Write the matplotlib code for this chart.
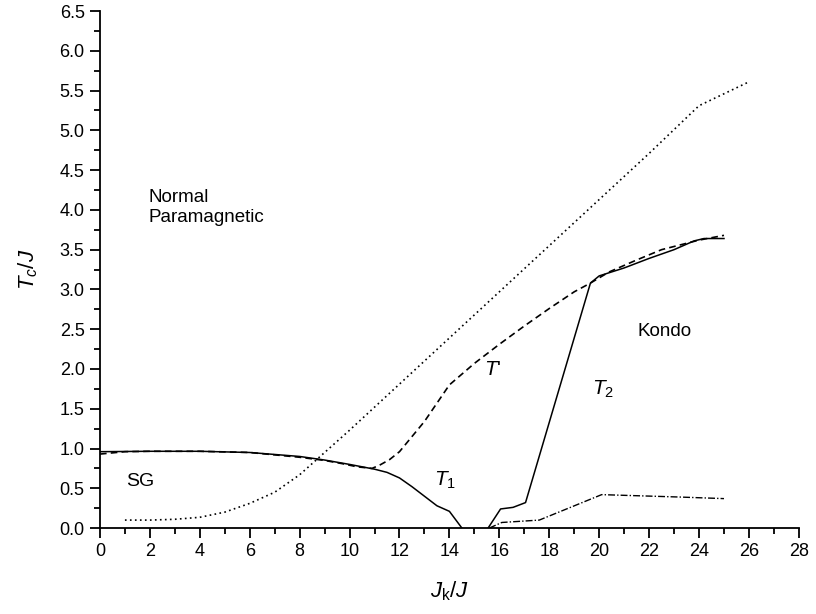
import matplotlib.pyplot as plt
from matplotlib.ticker import MultipleLocator

plt.rcParams['font.family'] = ['Liberation Sans', 'DejaVu Sans']
plt.rcParams['mathtext.fontset'] = 'custom'
plt.rcParams['mathtext.rm'] = 'Liberation Sans'
plt.rcParams['mathtext.it'] = 'Liberation Sans:italic'

# T_K type line (dotted)
tk_x = [1, 2, 3, 4, 5, 6, 7, 8, 9, 10, 11, 12, 14, 16, 18, 20, 22, 24, 25, 26]
tk_y = [0.10, 0.10, 0.11, 0.135, 0.20, 0.31, 0.45, 0.67, 0.95, 1.23, 1.52, 1.81,
        2.39, 2.97, 3.55, 4.13, 4.71, 5.31, 5.46, 5.61]

# T' (dashed)
tp_x = [0, 1, 2, 4, 6, 8, 9, 9.7, 10.3, 10.9, 11.2, 11.6, 12, 13, 14, 15, 16, 17,
        18, 19, 19.65, 20.4, 21.5, 22.5, 24, 25]
tp_y = [0.93, 0.96, 0.965, 0.965, 0.95, 0.89, 0.85, 0.81, 0.77, 0.75, 0.79, 0.86,
        0.96, 1.34, 1.80, 2.07, 2.31, 2.54, 2.76, 2.97, 3.08, 3.22, 3.37, 3.50,
        3.62, 3.68]

# T1 (solid)
t1_x = [0, 2, 4, 6, 8, 9, 10, 11, 11.5, 12, 12.5, 13, 13.5, 14, 14.5]
t1_y = [0.96, 0.965, 0.965, 0.95, 0.90, 0.855, 0.80, 0.74, 0.70, 0.63, 0.52, 0.40,
        0.28, 0.21, 0.0]

# T2 (solid)
t2_x = [15.55, 16.05, 16.55, 17.05, 19.65, 20.0, 21.0, 22.0, 23.0, 23.8, 24.2, 25.0]
t2_y = [0.0, 0.24, 0.26, 0.32, 3.08, 3.17, 3.27, 3.39, 3.50, 3.61, 3.64, 3.64]

# lower dash-dot line
dd_x = [15.6, 16.1, 17.6, 20.1, 23.2, 25.0]
dd_y = [0.0, 0.07, 0.10, 0.42, 0.39, 0.37]

fig = plt.figure(figsize=(8.16, 6.14), dpi=100)
ax = fig.add_axes([0.1225, 0.140, 0.8565, 0.842])

ax.plot(tk_x, tk_y, color='black', lw=1.2, linestyle=(0, (1, 2)))
ax.plot(tp_x, tp_y, color='black', lw=1.2, linestyle=(0, (4, 2.5)))
ax.plot(t1_x, t1_y, color='black', lw=1.1)
ax.plot(t2_x, t2_y, color='black', lw=1.1)
ax.plot(dd_x, dd_y, color='black', lw=1.0, linestyle=(0, (5, 1.5, 1, 1.5)))

ax.set_xlim(0, 28)
ax.set_ylim(0, 6.5)
ax.xaxis.set_major_locator(MultipleLocator(2))
ax.xaxis.set_minor_locator(MultipleLocator(1))
ax.yaxis.set_major_locator(MultipleLocator(0.5))
ax.yaxis.set_minor_locator(MultipleLocator(0.25))
ax.yaxis.set_major_formatter(plt.FormatStrFormatter('%.1f'))

for s in ['top', 'right']:
    ax.spines[s].set_visible(False)
for s in ['left', 'bottom']:
    ax.spines[s].set_linewidth(1.3)
ax.tick_params(which='major', direction='out', length=7.5, width=1.3, labelsize=13)
ax.tick_params(which='minor', direction='out', length=4, width=1.3)

ax.set_xlabel(r'$J_\mathrm{k}/J$', fontsize=16, labelpad=14)
ax.set_ylabel(r'$T_c/J$', fontsize=16, labelpad=14)

ax.text(1.95, 4.03, 'Normal\nParamagnetic', fontsize=13.5, va='center', ha='left',
        linespacing=1.3)
ax.text(1.05, 0.58, 'SG', fontsize=14, va='center', ha='left')
ax.text(13.4, 0.60, r'$T_1$', fontsize=15, va='center', ha='left')
ax.text(15.4, 1.99, r"$T$'", fontsize=15, va='center', ha='left')
ax.text(19.7, 1.74, r'$T_2$', fontsize=15, va='center', ha='left')
ax.text(21.55, 2.47, 'Kondo', fontsize=13.5, va='center', ha='left')

fig.savefig('out.png', dpi=100)
